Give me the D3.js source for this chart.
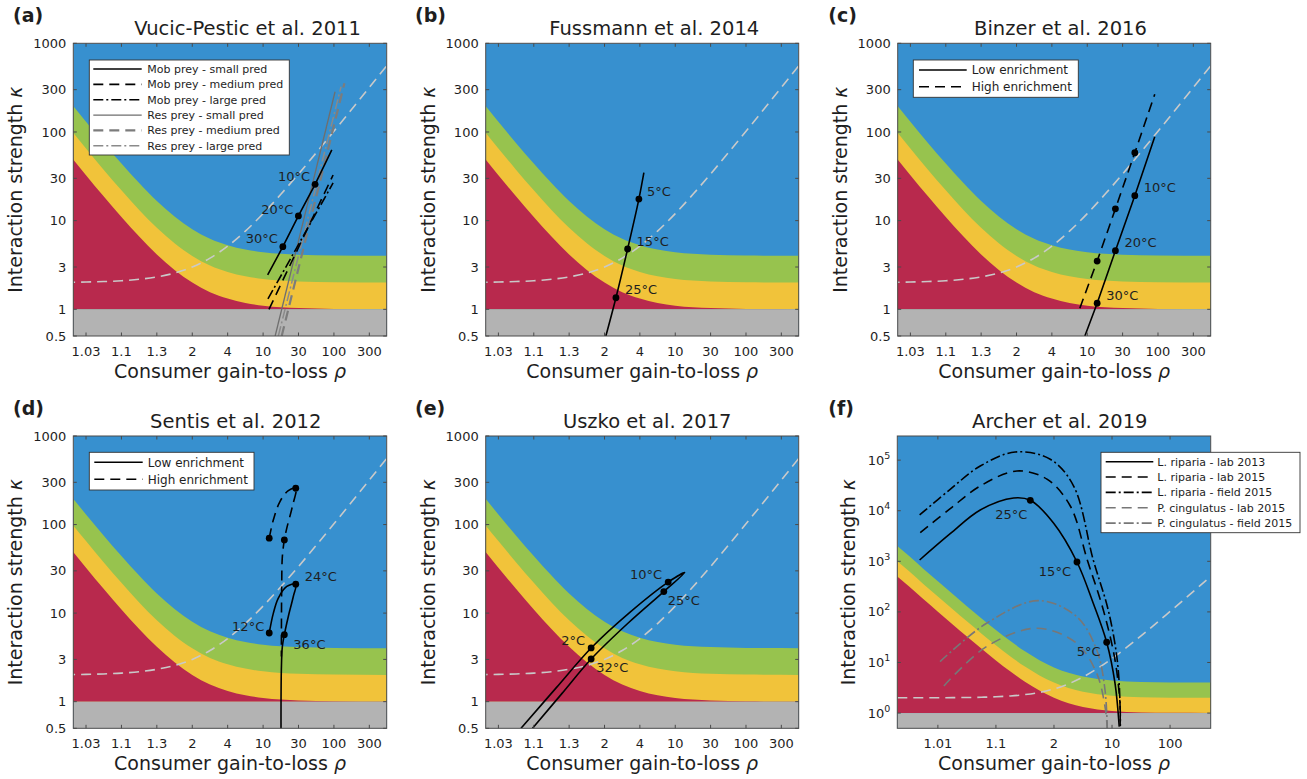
<!DOCTYPE html>
<html>
<head>
<meta charset="utf-8">
<script src="https://cdn.jsdelivr.net/npm/d3@7"></script>
<style>
  body { margin: 0; background: #fff; }
  text { font-family: "DejaVu Sans", sans-serif; fill: #1e1e1e; }
</style>
</head>
<body>
<svg id="fig" width="1307" height="779"></svg>
<script>
// ---------- data ----------
// background regions, as kappa edges at these rho values
const regionRho   = [1.002, 1.0032, 1.0056, 1.01, 1.0178, 1.0316, 1.056, 1.1, 1.178, 1.316, 1.562, 2, 2.78, 4.16, 6.62, 11, 18.8, 32.6, 101, 563];
const redEdge     = [502, 317, 179, 101, 57.2, 32.6, 18.8, 11, 6.62, 4.16, 2.78, 2, 1.56, 1.32, 1.18, 1.1, 1.056, 1.032, 1.01, 1.002];
const yellowEdge  = [1004, 634, 358, 202, 114, 65.2, 37.6, 22, 13.2, 8.3, 5.56, 4, 3.12, 2.64, 2.36, 2.2, 2.11, 2.06, 2.02, 2.004];
const greenEdge   = [2008, 1268, 716, 404, 229, 130, 75.2, 44, 26.5, 16.6, 11.1, 8, 6.24, 5.28, 4.72, 4.4, 4.22, 4.13, 4.04, 4.01];
const hopfEdge    = [2.002, 2.003, 2.006, 2.01, 2.018, 2.032, 2.056, 2.1, 2.18, 2.32, 2.56, 3, 3.78, 5.16, 7.62, 12, 19.8, 33.6, 102, 564];

// axis ticks (x positions are rho - 1)
const xTicksStd = [0.0316, 0.1, 0.316, 1, 3.16, 10, 31.6, 100, 316];
const xTickLabelsStd = ["1.03", "1.1", "1.3", "2", "4", "10", "30", "100", "300"];
const yTicksStd = [0.5, 1, 3, 10, 30, 100, 300, 1000];
const yTickLabelsStd = ["0.5", "1", "3", "10", "30", "100", "300", "1000"];
const xTicksArcher = [0.01, 0.1, 1, 10, 100];
const xTickLabelsArcher = ["1.01", "1.1", "2", "10", "100"];
const yTicksArcher = [1, 10, 100, 1000, 1e4, 1e5];
const yTickExpArcher = ["0", "1", "2", "3", "4", "5"];

// (a) Vucic-Pestic et al. 2011  [rho, kappa]
const vucicMobSmall  = [[12.6, 2.44], [20, 5.08], [32.5, 11.3], [55.2, 25.7], [94.3, 62.7]];
const vucicMobMedium = [[13.1, 1.0], [98.3, 32.7]];
const vucicMobLarge  = [[12.7, 1.31], [98.3, 26.6]];
const vucicResSmall  = [[15.8, 0.5], [104.7, 284]];
const vucicResMedium = [[19.3, 0.5], [141.6, 354]];
const vucicResLarge  = [[17.4, 0.5], [127, 324]];
const vucicTemps     = [[55.2, 25.7, "10°C"], [32.5, 11.3, "20°C"], [20, 5.08, "30°C"]];

// (b) Fussmann et al. 2014
const fussmann      = [[2.045, 0.5], [2.45, 1.35], [3.12, 4.79], [4.06, 17.5], [4.6, 34.7]];
const fussmannTemps = [[4.06, 17.5, "5°C"], [3.12, 4.79, "15°C"], [2.45, 1.35, "25°C"]];

// (c) Binzer et al. 2016
const binzerLow       = [[10.25, 0.5], [14.8, 1.17], [26, 4.58], [48, 19.1], [91, 88.5]];
const binzerHigh      = [[8.85, 1.03], [14.8, 3.5], [26, 13.6], [48, 58.3], [91, 266]];
const binzerTemps     = [[48, 19.1, "10°C"], [26, 4.58, "20°C"], [14.8, 1.17, "30°C"]];
const binzerHighDots  = [[14.8, 3.5], [26, 13.6], [48, 58.3]];

// (d) Sentis et al. 2012
const sentisLow  = [[13.2, 5.96], [14.96, 10], [17.4, 14.8], [22.6, 20], [29.9, 21.2], [27.7, 15.4], [23.7, 9.16],
                    [20.95, 5.7], [19.7, 4.2], [19.1, 2.29], [18.9, 0.45]];
const sentisHigh = [[13.2, 70.2], [14.96, 113], [18.3, 182], [23.7, 241], [29.9, 257], [26.9, 160], [22.6, 91],
                    [20.95, 67], [19.7, 43.6], [19.3, 20], [19.1, 3.24]];
const sentisTemps    = [[13.2, 5.96, "12°C"], [29.9, 21.2, "24°C"], [20.95, 5.7, "36°C"]];
const sentisHighDots = [[13.2, 70.2], [29.9, 257], [20.95, 67]];

// (e) Uszko et al. 2017 (closed loop through the temperature range)
const uszko = [[1.066, 0.5], [1.21, 1.45], [1.647, 4.04], [3.28, 10.2], [8.94, 22.4], [14.6, 28.7],
               [7.89, 17.5], [3.16, 7.73], [1.647, 3.03], [1.251, 1.24], [1.096, 0.5]];
const uszkoTemps = [[8.94, 22.4, "10°C"], [7.89, 17.5, "25°C"], [1.647, 4.04, "2°C"], [1.647, 3.03, "32°C"]];

// (f) Archer et al. 2019
const archerLab13   = [[1.00485, 1062], [1.0163, 3514], [1.0537, 10350], [1.2018, 17870], [1.391, 16070], [1.989, 5650],
                       [3.49, 970], [5.75, 148], [9.09, 25.1], [12.25, 3.9], [14.3, 0.54]];
const archerLab15   = [[1.00497, 3680], [1.0163, 10960], [1.0537, 30800], [1.23, 61000], [1.757, 42000], [2.91, 12400],
                       [4.75, 1062], [8.08, 109], [12.25, 11.2], [14.7, 1.56], [14.8, 0.6]];
const archerField15 = [[1.00485, 8240], [1.0163, 26500], [1.0537, 76500], [1.215, 145000], [1.863, 104000], [3.18, 30800],
                       [5.75, 1062], [9.6, 109], [13.3, 11.2], [14.8, 1.34], [14.9, 0.55]];
const archerPcLab   = [[1.0127, 3.44], [1.069, 20.6], [1.503, 47.5], [3.46, 24], [6.45, 6.1], [8.57, 1.34], [9.28, 0.5]];
const archerPcField = [[1.0109, 10.4], [1.069, 59.6], [1.536, 167], [3.46, 80.5], [6.45, 17.7], [8.57, 2.86], [9.28, 0.5]];
const archerTemps   = [[1.391, 16070, "25°C"], [3.49, 970, "15°C"], [9.09, 25.1, "5°C"]];

// ---------- styles ----------
const BLUE = "#3790cf", RED = "#b8294d", YELLOW = "#f1c33a", GREEN = "#97c34e", GRAY = "#b3b3b3";
const ST = {
  solid:   {stroke: "#000", dash: null, w: 1.6},
  dashed:  {stroke: "#000", dash: "10,6", w: 1.6},
  dashdot: {stroke: "#000", dash: "10,3,2,3", w: 1.6},
  gSolid:  {stroke: "#6e6e6e", dash: null, w: 1.3},
  gDashed: {stroke: "#7c7c7c", dash: "10,6", w: 2.2},
  gDashdot:{stroke: "#8a8a8a", dash: "10,3,2,3", w: 1.5},
  fDashed: {stroke: "#777", dash: "10,6", w: 1.6},
  fDashdot:{stroke: "#777", dash: "10,3,2,3", w: 1.6}
};
const lin = d3.curveLinear, cr = d3.curveCatmullRom.alpha(0.5);

const stdX = {xDomain: [0.0209, 556], yDomain: [0.5, 1000], xTicks: xTicksStd, xLabels: xTickLabelsStd, ylabOff: 51};

const panels = [
  Object.assign({key: "a", tag: "(a)", title: "Vucic-Pestic et al. 2011", L: 73.3, R: 386.7, T: 43.3, B: 336, titleX: 247.5, tagX: 13,
    series: [[vucicResSmall, ST.gSolid, lin], [vucicResLarge, ST.gDashdot, lin], [vucicResMedium, ST.gDashed, lin],
             [vucicMobMedium, ST.dashed, lin], [vucicMobLarge, ST.dashdot, lin], [vucicMobSmall, ST.solid, lin]],
    dots: [], temps: vucicTemps,
    labelPos: [{a: "end", dx: -5, dy: -8}, {a: "end", dx: -5, dy: -7}, {a: "end", dx: -5, dy: -8}],
    legend: {x: 89.3, y: 60, w: 200, h: 95, lx1: 93.3, lx2: 141.7, tx: 147.3, row0: 69, step: 15.35, fs: 11,
      items: [["Mob prey - small pred", ST.solid], ["Mob prey - medium pred", ST.dashed], ["Mob prey - large pred", ST.dashdot],
              ["Res prey - small pred", ST.gSolid], ["Res prey - medium pred", ST.gDashed], ["Res prey - large pred", ST.gDashdot]]}
  }, stdX),
  Object.assign({key: "b", tag: "(b)", title: "Fussmann et al. 2014", L: 485.7, R: 798.7, T: 43.3, B: 336, titleX: 654.3, tagX: 415,
    series: [[fussmann, ST.solid, cr]], dots: [], temps: fussmannTemps,
    labelPos: [{a: "start", dx: 8, dy: -8}, {a: "start", dx: 9, dy: -8}, {a: "start", dx: 9, dy: -8}]
  }, stdX),
  Object.assign({key: "c", tag: "(c)", title: "Binzer et al. 2016", L: 897.7, R: 1210.7, T: 43.3, B: 336, titleX: 1060.5, tagX: 828.3,
    series: [[binzerHigh, ST.dashed, lin], [binzerLow, ST.solid, lin]], dots: binzerHighDots, temps: binzerTemps,
    labelPos: [{a: "start", dx: 9, dy: -8}, {a: "start", dx: 9, dy: -8}, {a: "start", dx: 9, dy: -8}],
    legend: {x: 913.3, y: 60, w: 165, h: 37.3, lx1: 919, lx2: 966.7, tx: 971.7, row0: 70, step: 16.7, fs: 12,
      items: [["Low enrichment", ST.solid], ["High enrichment", ST.dashed]]}
  }, stdX),
  Object.assign({key: "d", tag: "(d)", title: "Sentis et al. 2012", L: 73.3, R: 386.7, T: 436, B: 728.3, titleX: 235.7, tagX: 13,
    series: [[sentisHigh, ST.dashed, cr], [sentisLow, ST.solid, cr]], dots: sentisHighDots, temps: sentisTemps,
    labelPos: [{a: "end", dx: -5, dy: -7}, {a: "start", dx: 9, dy: -8}, {a: "start", dx: 9, dy: 10}],
    legend: {x: 89.3, y: 452.3, w: 164.7, h: 37.7, lx1: 94.3, lx2: 142.7, tx: 147.7, row0: 462.3, step: 17, fs: 12,
      items: [["Low enrichment", ST.solid], ["High enrichment", ST.dashed]]}
  }, stdX),
  Object.assign({key: "e", tag: "(e)", title: "Uszko et al. 2017", L: 485.7, R: 798.7, T: 436, B: 728.3, titleX: 647.2, tagX: 415,
    series: [[uszko, ST.solid, cr]], dots: [], temps: uszkoTemps,
    labelPos: [{a: "end", dx: -6, dy: -8}, {a: "start", dx: 4, dy: 9}, {a: "end", dx: -6, dy: -8}, {a: "start", dx: 5, dy: 8}]
  }, stdX),
  {key: "f", tag: "(f)", title: "Archer et al. 2019", L: 897.3, R: 1210.7, T: 436, B: 728.3, titleX: 1059.8, tagX: 828.3,
    xDomain: [0.002, 501], yDomain: [0.5, 3e5], xTicks: xTicksArcher, xLabels: xTickLabelsArcher, ylabOff: 42, archer: true,
    series: [[archerPcField, ST.fDashdot, cr], [archerPcLab, ST.fDashed, cr], [archerField15, ST.dashdot, cr],
             [archerLab15, ST.dashed, cr], [archerLab13, ST.solid, cr]],
    dots: [], temps: archerTemps,
    labelPos: [{a: "end", dx: -3, dy: 14}, {a: "end", dx: -6, dy: 9}, {a: "end", dx: -6, dy: 9}],
    legend: {x: 1101, y: 452.3, w: 199, h: 80.4, lx1: 1105.7, lx2: 1153.3, tx: 1157.3, row0: 461.7, step: 15.35, fs: 11,
      items: [["L. riparia - lab 2013", ST.solid], ["L. riparia - lab 2015", ST.dashed], ["L. riparia - field 2015", ST.dashdot],
              ["P. cingulatus - lab 2015", ST.fDashed], ["P. cingulatus - field 2015", ST.fDashdot]]}
  }
];

const svg = d3.select("#fig");
const defs = svg.append("defs");

function styled(sel, s) {
  sel.attr("fill", "none").attr("stroke", s.stroke).attr("stroke-width", s.w);
  if (s.dash) sel.attr("stroke-dasharray", s.dash);
  return sel;
}

function drawPanel(p) {
  const x = d3.scaleLog().domain(p.xDomain).range([p.L, p.R]);
  const y = d3.scaleLog().domain(p.yDomain).range([p.B, p.T]);
  const X = r => x(r - 1);
  const g = svg.append("g");

  defs.append("clipPath").attr("id", "clip-" + p.key)
    .append("rect").attr("x", p.L).attr("y", p.T).attr("width", p.R - p.L).attr("height", p.B - p.T);
  const plot = g.append("g").attr("clip-path", `url(#clip-${p.key})`);

  // regions
  plot.append("rect").attr("x", p.L).attr("y", p.T).attr("width", p.R - p.L).attr("height", p.B - p.T).attr("fill", BLUE);
  const band = edge => d3.area()
    .x((d, i) => X(regionRho[i])).y0(y(1)).y1(d => y(d))
    .curve(d3.curveMonotoneX)(edge);
  plot.append("path").attr("d", band(greenEdge)).attr("fill", GREEN);
  plot.append("path").attr("d", band(yellowEdge)).attr("fill", YELLOW);
  plot.append("path").attr("d", band(redEdge)).attr("fill", RED);
  plot.append("rect").attr("x", p.L).attr("y", y(1)).attr("width", p.R - p.L).attr("height", p.B - y(1)).attr("fill", GRAY);

  // Hopf line
  plot.append("path")
    .attr("d", d3.line().x((d, i) => X(regionRho[i])).y(d => y(d)).curve(d3.curveMonotoneX)(hopfEdge))
    .attr("fill", "none").attr("stroke", "#c9c9c9").attr("stroke-width", 1.6).attr("stroke-dasharray", "10,6");

  // data curves
  p.series.forEach(([data, s, curve]) => {
    styled(plot.append("path"), s)
      .attr("d", d3.line().x(d => X(d[0])).y(d => y(d[1])).curve(curve)(data))
      .attr("stroke-linejoin", "round");
  });

  // markers
  p.dots.concat(p.temps).forEach(d => {
    plot.append("circle").attr("cx", X(d[0])).attr("cy", y(d[1])).attr("r", 3.4).attr("fill", "#000");
  });
  p.temps.forEach((d, i) => {
    const lp = p.labelPos[i];
    g.append("text").attr("x", X(d[0]) + lp.dx).attr("y", y(d[1]) + lp.dy + 4.6)
      .attr("text-anchor", lp.a).attr("font-size", 13).text(d[2]);
  });

  // frame and inside ticks
  g.append("rect").attr("x", p.L).attr("y", p.T).attr("width", p.R - p.L).attr("height", p.B - p.T)
    .attr("fill", "none").attr("stroke", "#4a4a4a").attr("stroke-width", 1);
  const tk = 3.5;
  p.xTicks.forEach((t, i) => {
    const xx = x(t);
    g.append("line").attr("x1", xx).attr("x2", xx).attr("y1", p.B).attr("y2", p.B - tk).attr("stroke", "#4a4a4a");
    g.append("line").attr("x1", xx).attr("x2", xx).attr("y1", p.T).attr("y2", p.T + tk).attr("stroke", "#4a4a4a");
    g.append("text").attr("x", xx).attr("y", p.B + 20).attr("text-anchor", "middle").attr("font-size", 13).text(p.xLabels[i]);
  });
  const yT = p.archer ? yTicksArcher : yTicksStd;
  yT.forEach((t, i) => {
    const yy = y(t);
    g.append("line").attr("x1", p.L).attr("x2", p.L + tk).attr("y1", yy).attr("y2", yy).attr("stroke", "#4a4a4a");
    g.append("line").attr("x1", p.R).attr("x2", p.R - tk).attr("y1", yy).attr("y2", yy).attr("stroke", "#4a4a4a");
    const tx = g.append("text").attr("x", p.L - 7).attr("y", yy + 4.6).attr("text-anchor", "end").attr("font-size", 13);
    if (p.archer) {
      tx.append("tspan").text("10");
      tx.append("tspan").attr("dy", -6).attr("font-size", 9.5).text(yTickExpArcher[i]);
    } else {
      tx.text(yTickLabelsStd[i]);
    }
  });

  // titles and axis labels
  g.append("text").attr("x", p.titleX).attr("y", p.T - 8.5).attr("text-anchor", "middle")
    .attr("font-size", 19.5).text(p.title);
  g.append("text").attr("x", p.tagX).attr("y", p.T - 21.5).attr("font-size", 19).attr("font-weight", "bold").text(p.tag);
  const xl = g.append("text").attr("x", (p.L + p.R) / 2).attr("y", p.B + 42).attr("text-anchor", "middle").attr("font-size", 19);
  xl.append("tspan").text("Consumer gain-to-loss ");
  xl.append("tspan").attr("font-style", "italic").text("ρ");
  const cy = (p.T + p.B) / 2, cx = p.L - p.ylabOff;
  const yl = g.append("text").attr("transform", `translate(${cx},${cy}) rotate(-90)`).attr("text-anchor", "middle").attr("font-size", 19);
  yl.append("tspan").text("Interaction strength ");
  yl.append("tspan").attr("font-style", "italic").text("κ");

  // legend
  if (p.legend) {
    const lg = p.legend;
    g.append("rect").attr("x", lg.x).attr("y", lg.y).attr("width", lg.w).attr("height", lg.h)
      .attr("fill", "#fff").attr("stroke", "#333").attr("stroke-width", 0.9);
    lg.items.forEach(([label, s], i) => {
      const ry = lg.row0 + i * lg.step;
      styled(g.append("line"), s).attr("x1", lg.lx1).attr("x2", lg.lx2).attr("y1", ry).attr("y2", ry);
      g.append("text").attr("x", lg.tx).attr("y", ry + lg.fs * 0.36).attr("font-size", lg.fs).text(label);
    });
  }
}

panels.forEach(drawPanel);
</script>
</body>
</html>
